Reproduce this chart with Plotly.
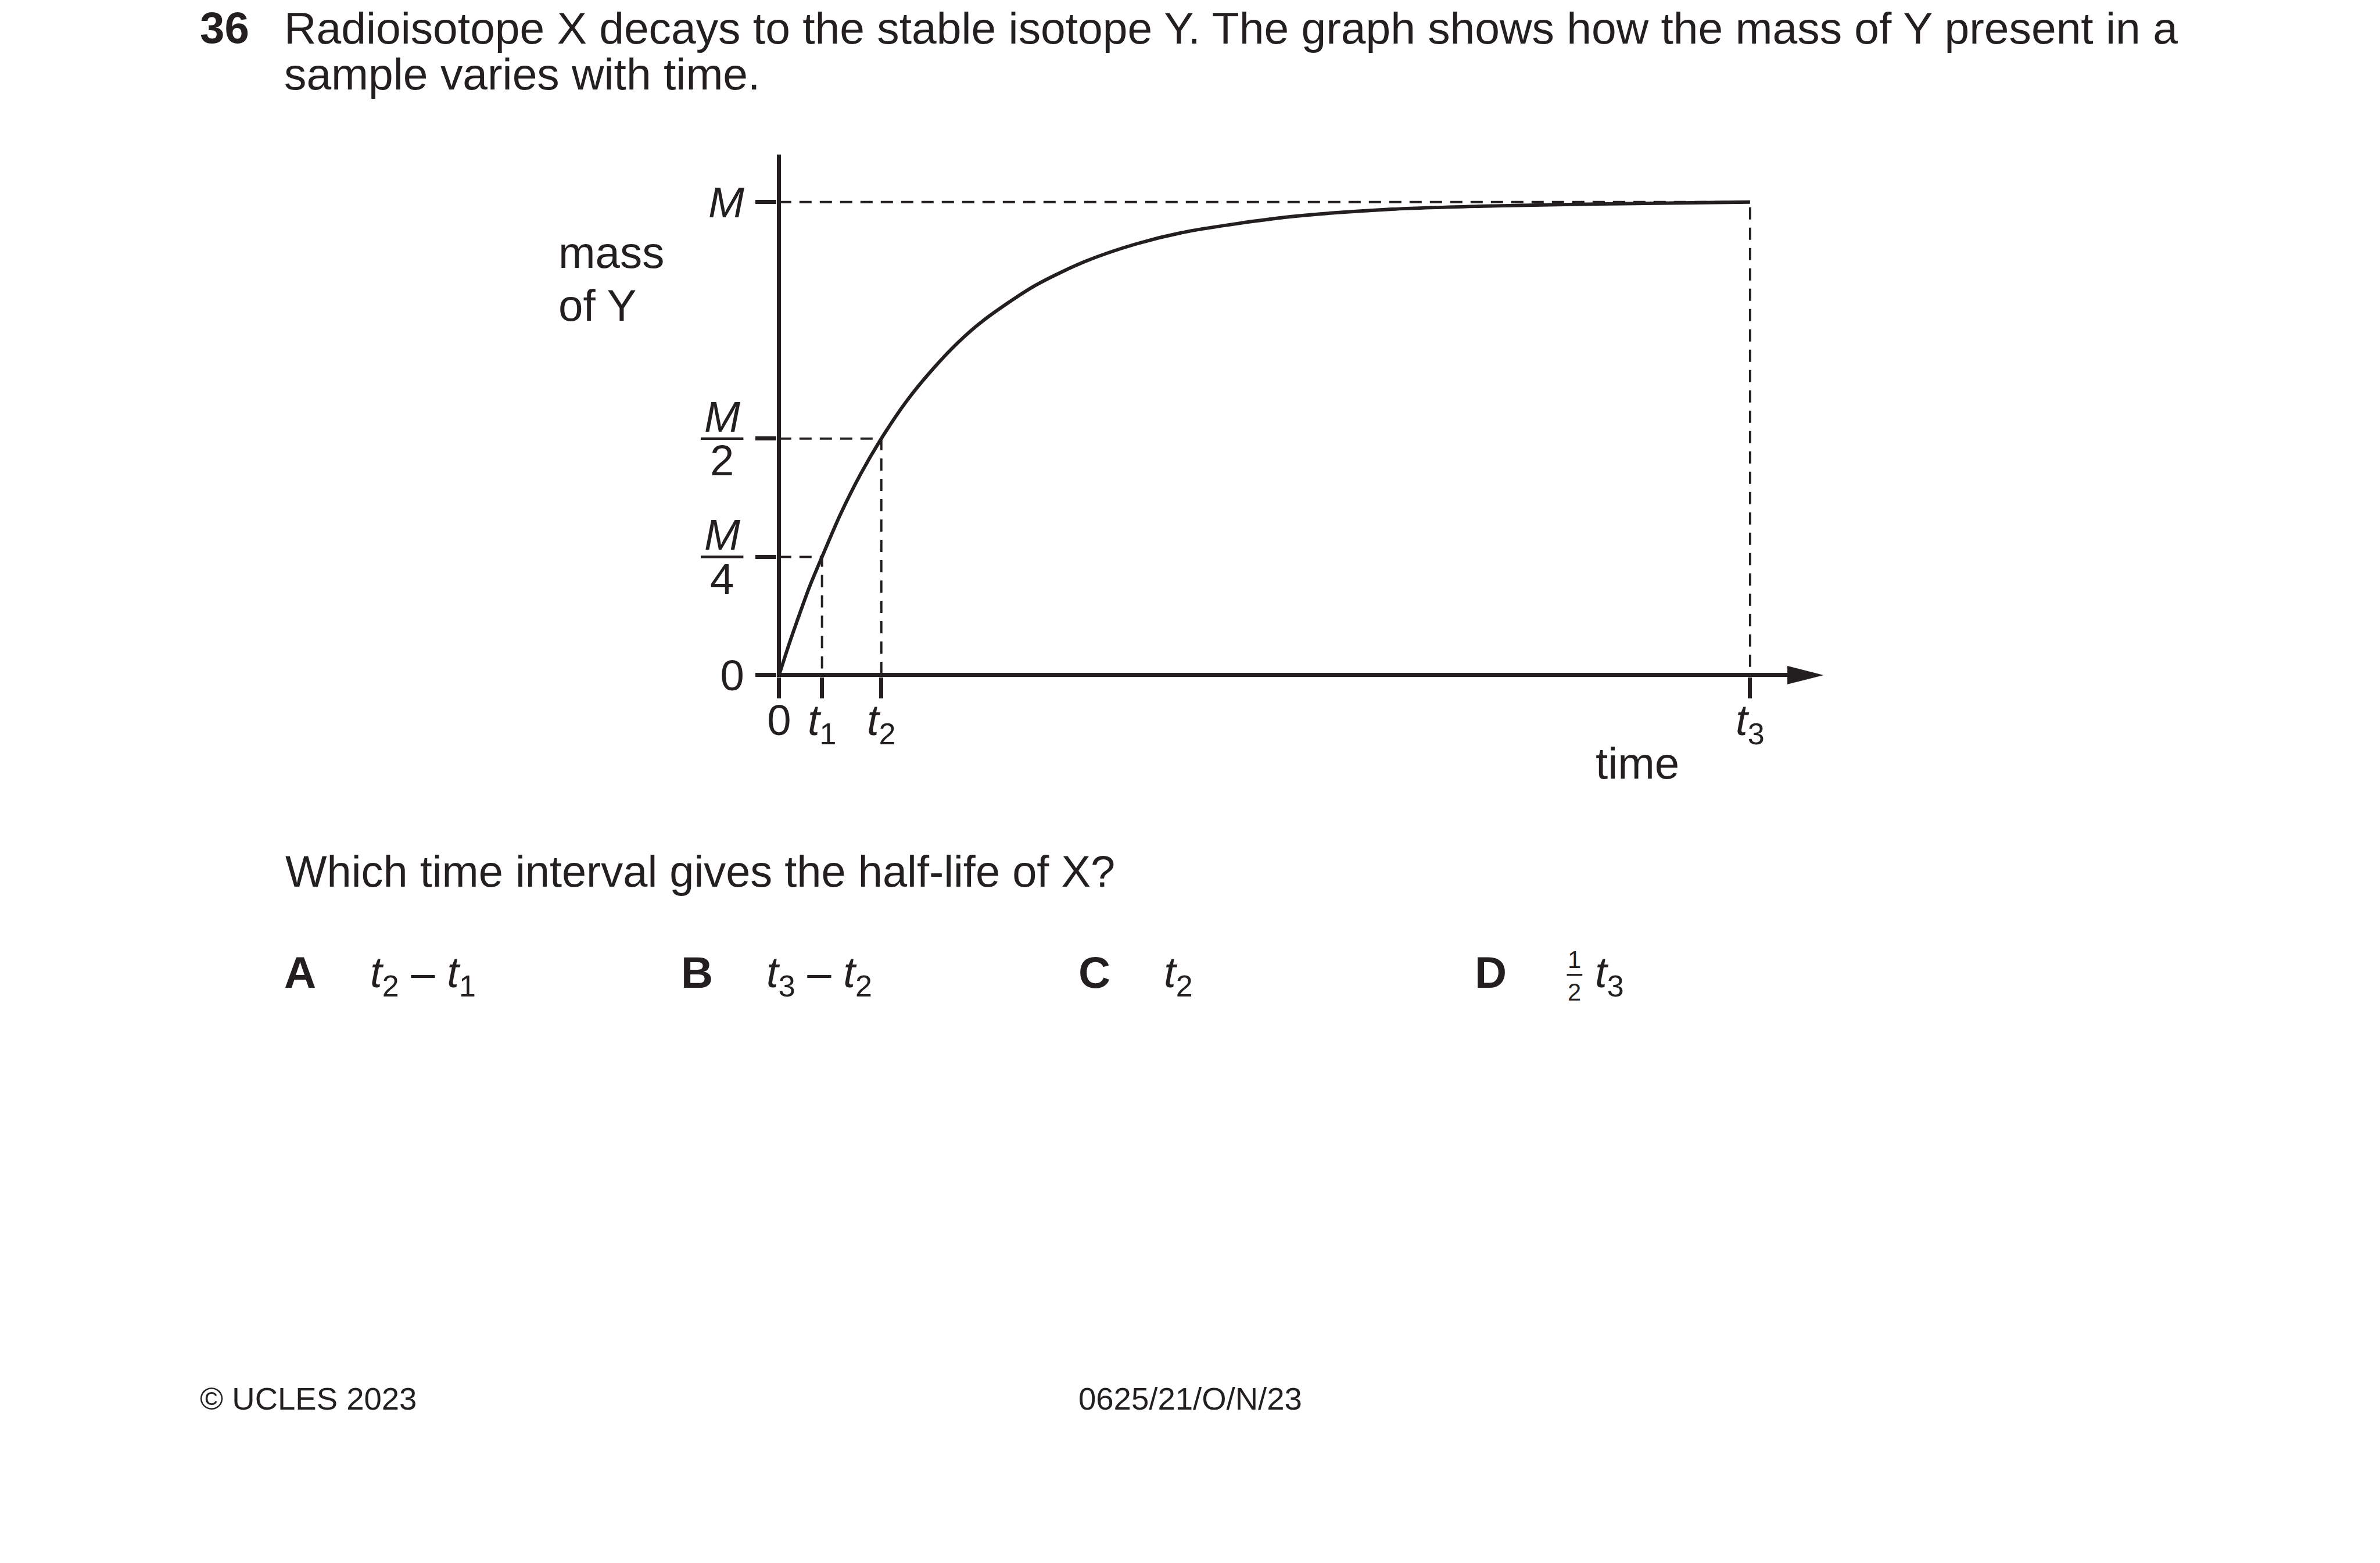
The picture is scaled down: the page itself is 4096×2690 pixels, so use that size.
import plotly.graph_objects as go

S = 0.991          # reference -> output scale
W, H = 4096, 2690
INK = "#231f20"
FONT = "Liberation Sans, Arial, Helvetica, sans-serif"

# ---------------- data ----------------
# time in units of t2 (the half-life), mass in units of M
time_values = [0.0, 0.1, 0.2, 0.3, 0.42, 0.6, 0.8, 1.0, 1.25, 1.5, 1.75, 2.0,
               2.5, 3.0, 3.5, 4.0, 5.0, 6.0, 7.0, 8.0, 9.5]
mass_values = [0.0, 0.067, 0.129, 0.188, 0.25, 0.34, 0.426, 0.5, 0.58, 0.646,
               0.703, 0.75, 0.823, 0.875, 0.912, 0.938, 0.969, 0.985, 0.992,
               0.996, 1.0]

time_ticks = [0.0, 0.42, 1.0, 9.5]
time_tick_labels = ["0", "<i>t</i><sub>1</sub>", "<i>t</i><sub>2</sub>",
                    "<i>t</i><sub>3</sub>"]
mass_ticks = [0.0, 0.25, 0.5, 1.0]
mass_tick_labels = ["0", "", "", "<i>M</i>"]
fraction_ticks = [0.25, 0.5]
fraction_denoms = ["4", "2"]

guide_times = [0.42, 1.0, 9.5]
guide_masses = [0.25, 0.5, 1.0]


def o(v):
    """reference pixel -> output pixel"""
    return v * S


# ---------------- geometry ----------------
AX_W = 7 * S
E = AX_W / 2
X0 = o(1353)
Y0 = o(1172.5)
PPX = 177.5 * S
PPY = 821.5 * S
L = round(X0 - E)
T = round(o(268))
R = round(W - o(3110))
B = round(H - (Y0 + E))
PW = W - L - R
PH = H - T - B
x_lo = -(X0 - L) / PPX
x_hi = x_lo + PW / PPX
y_lo = -((H - B) - Y0) / PPY
y_hi = y_lo + PH / PPY


def pxx(xref_px):
    return (o(xref_px) - L) / PW


def pyy(yref_px):
    return ((H - B) - o(yref_px)) / PH


BODY = 77
TICK = 75


def label(text, x_ref, base_ref, size_ref=BODY, anchor="left"):
    fs = size_ref * S
    top_ref = base_ref - 0.905 * size_ref
    return dict(text=text, xref="paper", yref="paper", x=pxx(x_ref),
                y=pyy(top_ref), xanchor=anchor, yanchor="top",
                showarrow=False, borderpad=0, borderwidth=0,
                font=dict(family=FONT, size=fs, color=INK))


fig = go.Figure()

# dashed guide lines
for t, m in zip(guide_times, guide_masses):
    fig.add_trace(go.Scatter(
        x=[0, t, t], y=[m, m, 0], mode="lines",
        line=dict(color=INK, width=4 * S, dash="21px,14px"),
        hoverinfo="skip", cliponaxis=False))

# curve
fig.add_trace(go.Scatter(
    x=time_values, y=mass_values, mode="lines",
    line=dict(color=INK, width=6 * S, shape="spline", smoothing=0.8),
    hoverinfo="skip", cliponaxis=False))

annotations = []
shapes = []

# fraction labels M/4, M/2
FS = TICK * S
for m, d in zip(fraction_ticks, fraction_denoms):
    annotations.append(dict(
        text="<i>M</i>", xref="x", yref="y", x=0, y=m,
        xshift=(1254 - 1353) * S, yshift=12 * S + 0.905 * FS,
        xanchor="center", yanchor="top", showarrow=False,
        borderpad=0, borderwidth=0,
        font=dict(family=FONT, size=FS, color=INK)))
    annotations.append(dict(
        text=d, xref="x", yref="y", x=0, y=m,
        xshift=(1254 - 1353) * S, yshift=0.905 * FS - 64 * S,
        xanchor="center", yanchor="top", showarrow=False,
        borderpad=0, borderwidth=0,
        font=dict(family=FONT, size=FS, color=INK)))
    shapes.append(dict(type="line", xref="paper", yref="y",
                       x0=pxx(1217), x1=pxx(1291), y0=m, y1=m,
                       line=dict(color=INK, width=4.5 * S)))

# arrow head of the time axis
yc = pyy(1172.5)
shapes.append(dict(
    type="path", xref="paper", yref="paper",
    path=(f"M {pxx(3104)},{pyy(1172.5 - 16)} L {pxx(3167)},{yc} "
          f"L {pxx(3104)},{pyy(1172.5 + 16)} Z"),
    fillcolor=INK, line=dict(width=0)))

# texts
annotations += [
    label("<b>36</b>", 347, 75),
    label("Radioisotope X decays to the stable isotope Y. The graph shows how "
          "the mass of Y present in a", 493, 75, 77.5),
    label("sample varies with time.", 493, 155, 77.5),
    label("mass", 970, 465),
    label("of Y", 970, 557),
    label("time", 2771, 1352),
    label("Which time interval gives the half-life of X?", 495, 1539, 76.5),
    label("<b>A</b>", 493, 1715),
    label("<i>t</i><sub>2</sub> – <i>t</i><sub>1</sub>", 643, 1715, 75),
    label("<b>B</b>", 1183, 1715),
    label("<i>t</i><sub>3</sub> – <i>t</i><sub>2</sub>", 1331, 1715, 75),
    label("<b>C</b>", 1873, 1715),
    label("<i>t</i><sub>2</sub>", 2021, 1715, 75),
    label("<b>D</b>", 2561, 1715),
    label("1", 2734, 1681, 42, "center"),
    label("2", 2734, 1737, 42, "center"),
    label("<i>t</i><sub>3</sub>", 2770, 1715, 75),
    label("© UCLES 2023", 347, 2448, 55),
    label("0625/21/O/N/23", 1873, 2448, 55),
]
shapes.append(dict(type="line", xref="paper", yref="paper",
                   x0=pxx(2721), x1=pxx(2748), y0=pyy(1693), y1=pyy(1693),
                   line=dict(color=INK, width=3.5 * S)))

axis_common = dict(
    showgrid=False, showline=False, zeroline=True, zerolinecolor=INK,
    zerolinewidth=AX_W, ticks="outside", ticklen=36.5 * S, tickwidth=AX_W,
    tickcolor=INK, tickmode="array", automargin=False, fixedrange=True,
    tickfont=dict(family=FONT, size=FS, color=INK))

fig.update_layout(
    width=W, height=H,
    margin=dict(l=L, r=R, t=T, b=B, pad=0, autoexpand=False),
    paper_bgcolor="white", plot_bgcolor="white", showlegend=False,
    xaxis=dict(range=[x_lo, x_hi], tickvals=time_ticks,
               ticktext=time_tick_labels, ticklabelstandoff=-26,
               **axis_common),
    yaxis=dict(range=[y_lo, y_hi], tickvals=mass_ticks,
               ticktext=mass_tick_labels, ticklabelstandoff=4,
               **axis_common),
    annotations=annotations, shapes=shapes)

# the page body keeps no margin, so the figure sits at the window's corner
fig.write_html("out.html",
               config={"displayModeBar": False, "displaylogo": False},
               post_script="document.body.style.margin='0';"
                           "document.body.style.overflow='hidden';")
